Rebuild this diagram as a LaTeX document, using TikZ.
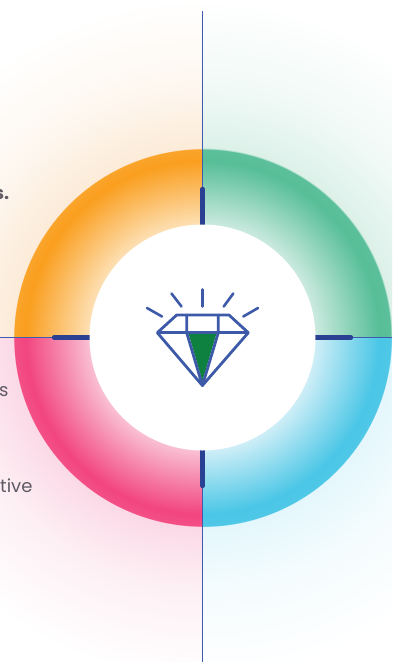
\documentclass[tikz,border=0pt]{standalone}
\usepackage{fontspec}
\setmainfont{Poppins}
\usepackage{xcolor}
\usetikzlibrary{positioning}
\definecolor{axisblue}{HTML}{3F5BB0}
\definecolor{tickblue}{HTML}{2A4093}
\definecolor{gemblue}{HTML}{3D5AA8}
\definecolor{gemgreen}{HTML}{0E8040}
\definecolor{textgrey}{HTML}{5F5A64}
% quadrant shading: name, inner, saturated, edge, glow
\newcommand{\quadshading}[5]{%
  \definecolor{#1inner}{HTML}{#2}\definecolor{#1full}{HTML}{#3}%
  \definecolor{#1edge}{HTML}{#4}\definecolor{#1glow}{HTML}{#5}%
  \pgfdeclareradialshading{#1}{\pgfpoint{0bp}{0bp}}{%
    color(0bp)=(#1inner); color(8.3bp)=(#1inner); color(13bp)=(#1full);
    color(13.89bp)=(#1edge); color(13.9bp)=(#1glow);
    color(18.5bp)=(#1glow!40!white); color(25bp)=(white); color(50bp)=(white)}}
\quadshading{glowOrange}{FDE0B4}{FA9E1E}{FAA52D}{FCEBD8}
\quadshading{glowGreen}{CBEADF}{56BE98}{5CC09B}{DCF1E9}
\quadshading{glowPink}{F9C0D3}{F2457F}{F35086}{FBD9E6}
\quadshading{glowBlue}{CEEEF7}{4AC6E6}{50C8E7}{E4F7FC}

\begin{document}
\begin{tikzpicture}[
    x=1pt, y=-1pt,
    axisline/.style={draw=axisblue, line width=1pt},
    ticklinestyle/.style={draw=tickblue, line width=4.4pt, line cap=round},
    gemline/.style={draw=gemblue, line width=2.8pt, line join=round},
    rayline/.style={draw=gemblue, line width=2.6pt, line cap=round},
    greytext/.style={text=textgrey, inner sep=0pt, font=\fontsize{18}{22}\selectfont}
  ]
  \useasboundingbox (0,0) rectangle (392,662);
  \coordinate (centre) at (202.5,337.5);

  % Quadrants with their glow
  \foreach \shadename/\cornerx/\cornery in {glowOrange/0/0, glowGreen/392/0, glowPink/0/662, glowBlue/392/662} {
    \begin{scope}
      \clip (centre) rectangle (\cornerx,\cornery);
      \shade[shading=\shadename] (centre) circle[radius=340];
    \end{scope}
  }

  % Cut-off text at the left edge
  \node[greytext, font=\fontsize{18}{22}\selectfont\bfseries, anchor=base west] (textone) at (-6,199) {s.};
  \node[greytext, anchor=base west] (texttwo) at (-1,396) {s};
  \node[greytext, anchor=base west] (textthree) at (0,492) {tive};

  % Axes
  \coordinate (axistop) at (202.5,11);
  \coordinate (axisbottom) at (202.5,662);
  \coordinate (axisleft) at (0,337.5);
  \coordinate (axisright) at (392,337.5);
  \draw[axisline] (axistop) -- (axisbottom);
  \draw[axisline] (axisleft) -- (axisright);

  % Thick ticks
  \draw[ticklinestyle] (202.5,189) -- (202.5,230);
  \draw[ticklinestyle] (202.5,486) -- (202.5,445);
  \draw[ticklinestyle] (54,337.5) -- (95,337.5);
  \draw[ticklinestyle] (351,337.5) -- (310,337.5);

  % Hub
  \node[circle, fill=white, minimum size=226pt, inner sep=0pt] (hub) at (centre) {};

  % Gem
  \fill[gemgreen] (188.5,333.5) -- (216.5,333.5) -- (202.4,381) -- cycle;
  \draw[gemline] (176.7,315) -- (229,315) -- (248.3,332.7) -- (202.4,385.5) -- (157.3,332.7) -- cycle;
  \draw[gemline] (157.3,332.7) -- (248.3,332.7);
  \draw[gemline] (186.7,315) -- (186.7,332.7) -- (202.4,385.5) -- (218.3,332.7) -- (218.3,315);
  \draw[rayline] (202.4,289.5) -- (202.4,306.5);
  \draw[rayline] (171.5,293.5) -- (181.5,306.5);
  \draw[rayline] (233.3,293.5) -- (223.7,306.5);
  \draw[rayline] (147,308) -- (162,316.5);
  \draw[rayline] (258,308) -- (243.3,316.5);
\end{tikzpicture}
\end{document}
